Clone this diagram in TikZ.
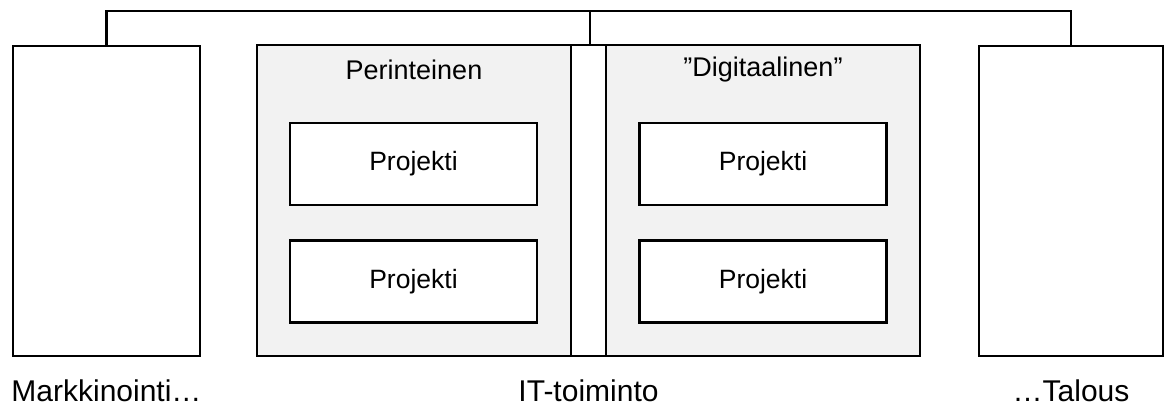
\documentclass[tikz,border=0pt]{standalone}
\usepackage{fontspec}
\setmainfont{Liberation Sans}
\begin{document}
\begin{tikzpicture}[x=1pt,y=-1pt,
  box/.style={draw=black,line width=2.8pt,inner sep=0pt,minimum width=#1},
  panel/.style={draw=black,line width=2.8pt,fill=black!5,inner sep=0pt},
  proj/.style={draw=black,line width=2.5pt,fill=white,inner sep=0pt,minimum width=247pt,minimum height=82pt,font=\fontsize{26.5}{30}\selectfont},
  lab/.style={font=\fontsize{30}{34}\selectfont,anchor=base,inner sep=0pt},
  title/.style={font=\fontsize{27}{30}\selectfont,inner sep=0pt},
  conn/.style={draw=black,line width=2.6pt}]
\useasboundingbox (0,0) rectangle (1173,405);
% side boxes
\node[box=187pt,minimum height=310pt] (mark) at (106.5,201) {};
\node[box=184pt,minimum height=310pt] (tal) at (1071,201) {};
% IT outer
\node[box=663pt,minimum height=311pt,fill=white] (it) at (588.5,200.5) {};
\node[panel,minimum width=314pt,minimum height=311pt] (per) at (414,200.5) {};
\node[panel,minimum width=314pt,minimum height=311pt] (dig) at (763,200.5) {};
% titles
\node[title] (pert) at (414,70) {Perinteinen};
\node[title] (digt) at (763,70) {”Digitaalinen”};
% projects
\node[proj] (p1) at (413.5,164) {Projekti};
\node[proj] (p2) at (413.5,281.5) {Projekti};
\node[proj] (p3) at (763,164) {Projekti};
\node[proj] (p4) at (763,281.5) {Projekti};
% connectors
\coordinate (topL) at (mark.north |- 0,11);
\coordinate (topR) at (tal.north |- 0,11);
\coordinate (topM) at (590,11);
\draw[conn] (mark.north) -- (topL) -- (topR) -- (tal.north);
\draw[conn] (topM) -- (topM |- it.north);
% labels
\node[lab] (lmark) at (106.5,401) {Markkinointi…};
\node[lab] (lit) at (588.5,401) {IT-toiminto};
\node[lab] (ltal) at (1071,401) {…Talous};
\end{tikzpicture}
\end{document}
